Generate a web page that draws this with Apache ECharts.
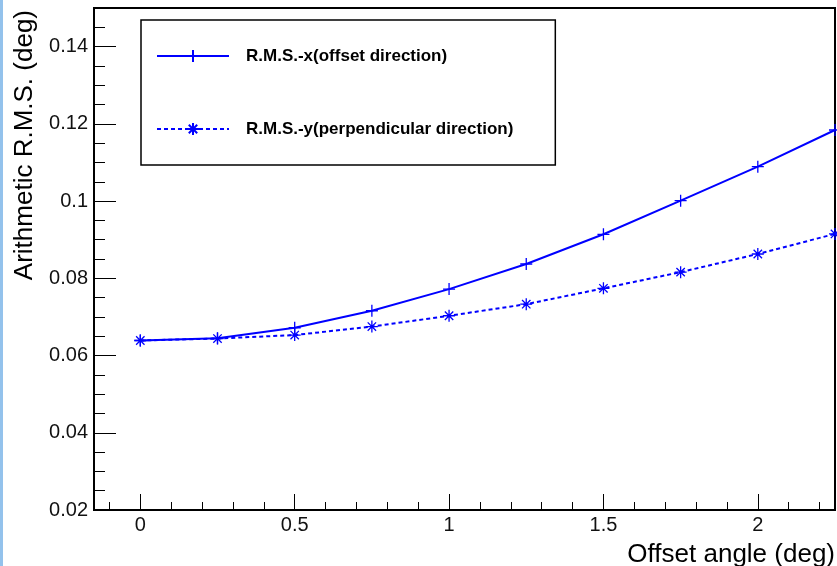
<!DOCTYPE html>
<html>
<head>
<meta charset="utf-8">
<script src="https://cdn.jsdelivr.net/npm/echarts@6/dist/echarts.min.js"></script>
<style>
html, body { margin: 0; padding: 0; background: #fff; }
#chart { position: absolute; left: 0; top: 0; width: 837px; height: 566px; }
.edge { position: absolute; left: 0; top: 0; width: 3px; height: 566px; background: #93c2ec; z-index: 2; }
</style>
</head>
<body>
<div id="chart"></div>
<div class="edge"></div>
<script>
// offset angle (deg)
const offsetAngle = [0, 0.25, 0.5, 0.75, 1, 1.25, 1.5, 1.75, 2, 2.25]
// arithmetic r.m.s. (deg)
const rmsX = [0.0639, 0.0645, 0.0672, 0.0716, 0.0772, 0.0837, 0.0914, 0.1001, 0.1089, 0.1184]
const rmsY = [0.0639, 0.0644, 0.0653, 0.0675, 0.0703, 0.0733, 0.0774, 0.0816, 0.0863, 0.0915]
const xTicks = [0, 0.5, 1, 1.5, 2]
const yTicks = [0.02, 0.04, 0.06, 0.08, 0.1, 0.12, 0.14]
const seriesNames = ['R.M.S.-x(offset direction)', 'R.M.S.-y(perpendicular direction)']

// minor ticks, ROOT style
const xMinor = []
for (let i = -1; i <= 22; i++) {
  if (i % 5 !== 0) xMinor.push(i / 10)
}
const yMinor = []
for (let k = 1; k < 26; k++) {
  if (k % 4 !== 0) yMinor.push(+(0.02 + 0.005 * k).toFixed(3))
}

const font = '"Liberation Sans", Arial, Helvetica, sans-serif'
const blue = '#0000ff'
const plusPath = 'path://M6,0L6,12M0,6L12,6'
const starPath = 'path://M6,0L6,12M0,6L12,6M1.8,1.8L10.2,10.2M1.8,10.2L10.2,1.8'

const chart = echarts.init(document.getElementById('chart'))

const pairs = (ys) => offsetAngle.map((x, i) => [x, ys[i]])

const option = {
  animation: false,
  backgroundColor: 'transparent',
  grid: {
    left: 94,
    right: 2,
    top: 8,
    bottom: 56,
    outerBoundsMode: 'none',
    containLabel: false,
    show: true,
    borderColor: '#000',
    borderWidth: 2,
    backgroundColor: 'transparent'
  },
  legend: {
    orient: 'vertical',
    left: 141,
    top: 20,
    padding: [26, 42, 26, 15],
    itemWidth: 72,
    itemHeight: 15,
    itemGap: 53,
    borderColor: '#000',
    borderWidth: 1.5,
    backgroundColor: '#fff',
    selectedMode: false,
    data: seriesNames,
    textStyle: {
      fontFamily: font,
      fontSize: 17,
      fontWeight: 'bold',
      color: '#000',
      lineHeight: 20,
      padding: [0, 0, 0, 12]
    }
  },
  xAxis: [
    {
      type: 'value',
      min: -0.15,
      max: 2.25,
      position: 'bottom',
      name: 'Offset angle (deg)',
      nameLocation: 'end',
      nameGap: 0,
      nameMoveOverlap: false,
      nameTextStyle: {
        fontFamily: font,
        fontSize: 26,
        color: '#000',
        align: 'right',
        verticalAlign: 'top',
        padding: [32, 0, 0, 0]
      },
      axisLine: { show: false, onZero: false },
      splitLine: { show: false },
      axisTick: {
        inside: true,
        length: 16,
        customValues: xTicks,
        lineStyle: { color: '#000', width: 1 }
      },
      axisLabel: {
        customValues: xTicks,
        margin: 5,
        fontFamily: font,
        fontSize: 20,
        color: '#111'
      }
    },
    {
      type: 'value',
      min: -0.15,
      max: 2.25,
      position: 'bottom',
      axisLine: { show: false, onZero: false },
      splitLine: { show: false },
      axisLabel: { show: false },
      axisTick: {
        inside: true,
        length: 8,
        customValues: xMinor,
        lineStyle: { color: '#000', width: 1 }
      }
    }
  ],
  yAxis: [
    {
      type: 'value',
      min: 0.02,
      max: 0.15,
      position: 'left',
      name: 'Arithmetic R.M.S. (deg)',
      nameLocation: 'end',
      nameRotate: 90,
      nameGap: -2,
      nameMoveOverlap: false,
      nameTextStyle: {
        fontFamily: font,
        fontSize: 26,
        color: '#000',
        align: 'right',
        verticalAlign: 'bottom',
        lineHeight: 26,
        padding: [0, 0, 56, 0]
      },
      axisLine: { show: false, onZero: false },
      splitLine: { show: false },
      axisTick: {
        inside: true,
        length: 22,
        customValues: yTicks,
        lineStyle: { color: '#000', width: 1 }
      },
      axisLabel: {
        customValues: yTicks,
        margin: 6,
        fontFamily: font,
        fontSize: 20,
        color: '#111'
      }
    },
    {
      type: 'value',
      min: 0.02,
      max: 0.15,
      position: 'left',
      axisLine: { show: false, onZero: false },
      splitLine: { show: false },
      axisLabel: { show: false },
      axisTick: {
        inside: true,
        length: 11,
        customValues: yMinor,
        lineStyle: { color: '#000', width: 1 }
      }
    }
  ],
  series: [
    {
      name: seriesNames[0],
      type: 'line',
      data: pairs(rmsX),
      symbol: plusPath,
      symbolSize: 12,
      symbolKeepAspect: true,
      lineStyle: { color: blue, width: 2 },
      itemStyle: { color: blue, borderColor: blue, borderWidth: 1.3 },
      emphasis: { disabled: true },
      silent: true
    },
    {
      name: seriesNames[1],
      type: 'line',
      data: pairs(rmsY),
      symbol: starPath,
      symbolSize: 12,
      symbolKeepAspect: true,
      lineStyle: { color: blue, width: 2, type: [4, 3] },
      itemStyle: { color: blue, borderColor: blue, borderWidth: 1.3 },
      emphasis: { disabled: true },
      silent: true
    }
  ]
}

chart.setOption(option)
</script>
</body>
</html>
